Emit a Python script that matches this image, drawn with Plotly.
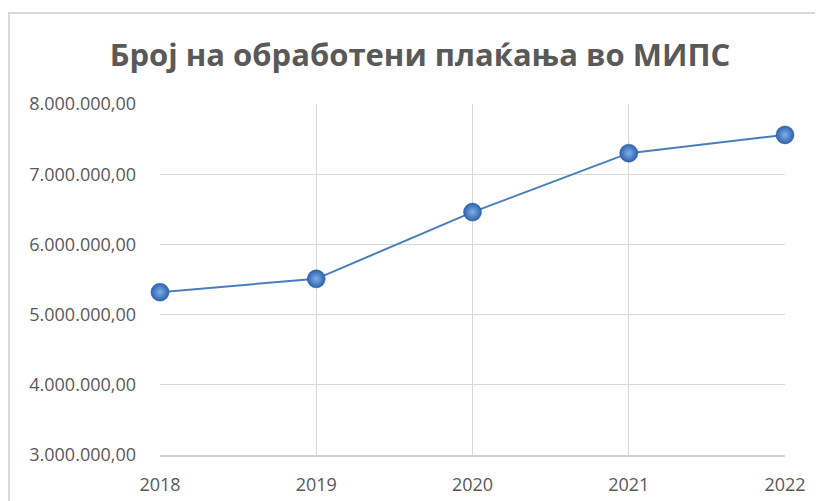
import plotly.graph_objects as go

years = [2018, 2019, 2020, 2021, 2022]
payments = [5320000, 5510000, 6460000, 7300000, 7560000]
title_text = "Број на обработени плаќања во МИПС"

W, H = 823, 501
OFF = 8  # page body margin offset
# target page-pixel positions of the plot area
PL, PR, PT, PB = 160, 785, 104, 455
L, T = PL - OFF, PT - OFF
R = W - (PR - OFF)
B = H - (PB - OFF)
pw, ph = W - L - R, H - T - B

def px(x):
    return (x - OFF - L) / pw

def py(y):
    return (H - B - (y - OFF)) / ph

fig = go.Figure()
fig.add_trace(go.Scatter(
    x=years, y=payments, mode="lines+markers",
    line=dict(color="#4A7EBB", width=2),
    marker=dict(size=18, color="#2D63AE",
                gradient=dict(type="radial", color="#7FAEE8"),
                line=dict(color="#23528F", width=0.5)),
    cliponaxis=False, hoverinfo="skip", showlegend=False,
))

fig.update_layout(
    width=W, height=H,
    margin=dict(l=L, r=R, t=T, b=B, autoexpand=False),
    paper_bgcolor="white", plot_bgcolor="white",
    separators=",.",
    title=dict(text=f"<b>{title_text}</b>", x=(420 - OFF) / W, xanchor="center",
               xref="container", y=1 - (55 - OFF) / H, yanchor="middle", yref="container",
               font=dict(family="Open Sans", size=31, color="#595959")),
    xaxis=dict(range=[2018, 2022], tickvals=years, ticktext=[str(y) for y in years],
               showgrid=True, gridcolor="#D9D9D9", gridwidth=1,
               showline=True, linecolor="#D0D0D0", linewidth=2,
               ticklabelstandoff=12,
               zeroline=False, ticks="", tickfont=dict(family="Open Sans", size=18, color="#595959")),
    yaxis=dict(range=[3000000, 8000000], dtick=1000000, tickformat=",.2f",
               showgrid=True, gridcolor="#D9D9D9", gridwidth=1,
               showline=False, zeroline=False, ticks="",
               ticklabelstandoff=23,
               tickfont=dict(family="Open Sans", size=18, color="#595959")),
)

fig.add_shape(type="rect", xref="paper", yref="paper",
              x0=px(9), x1=px(840), y0=py(520), y1=py(13),
              line=dict(color="#D9D9D9", width=2), fillcolor="rgba(0,0,0,0)", layer="below")

fig.write_html("out.html")
